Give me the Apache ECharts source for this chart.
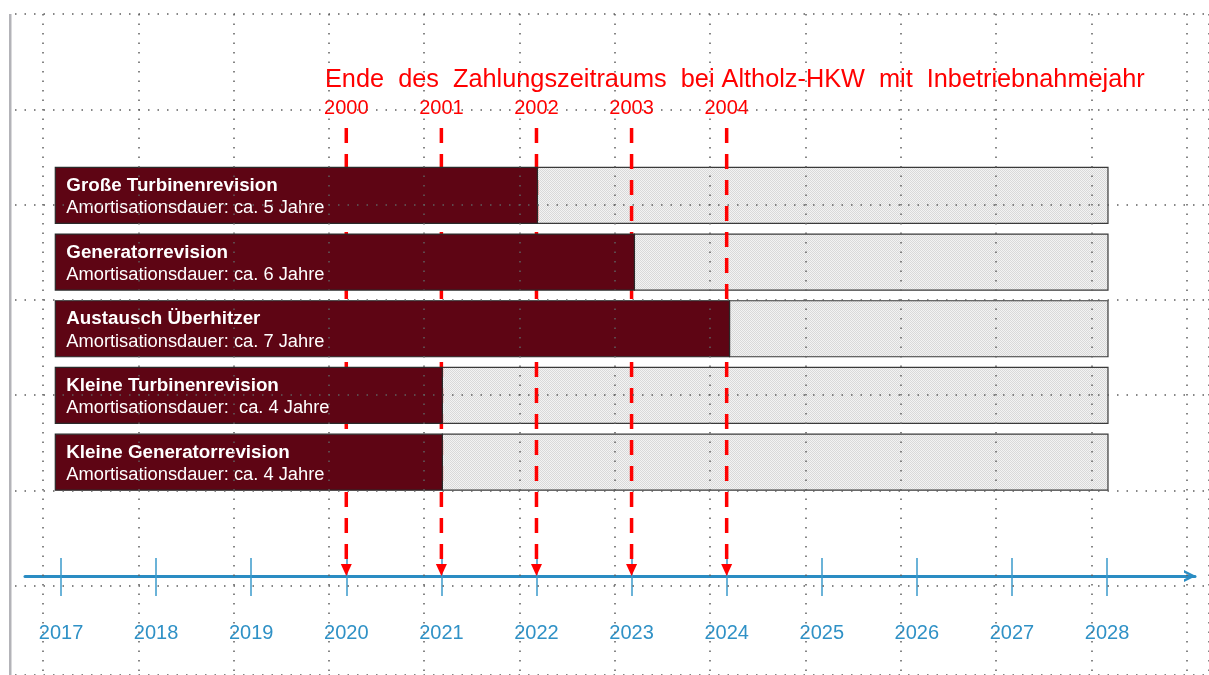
<!DOCTYPE html>
<html>
<head>
<meta charset="utf-8">
<script src="https://cdn.jsdelivr.net/npm/echarts@6/dist/echarts.min.js"></script>
<style>
html,body{margin:0;padding:0;background:#fff;}
#chart{width:1209px;height:675px;}
</style>
</head>
<body>
<div id="chart"></div>
<script>
// ---- data ----
const axisYears = [2017, 2018, 2019, 2020, 2021, 2022, 2023, 2024, 2025, 2026, 2027, 2028];
const commissioningYears = ['2000', '2001', '2002', '2003', '2004'];
const paymentEndYears = [2020, 2021, 2022, 2023, 2024];
const measures = ['Große Turbinenrevision', 'Generatorrevision', 'Austausch Überhitzer', 'Kleine Turbinenrevision', 'Kleine Generatorrevision'];
const paybackTexts = ['Amortisationsdauer: ca. 5 Jahre', 'Amortisationsdauer: ca. 6 Jahre', 'Amortisationsdauer: ca. 7 Jahre', 'Amortisationsdauer:  ca. 4 Jahre', 'Amortisationsdauer: ca. 4 Jahre'];
const paybackStart = [2016.94, 2016.94, 2016.94, 2016.94, 2016.94];
const paybackEnd = [2022.01, 2023.03, 2024.03, 2021.01, 2021.01];
const horizonEnd = [2028.01, 2028.01, 2028.01, 2028.01, 2028.01];
const titleText = 'Ende  des  Zahlungszeitraums  bei Altholz-HKW  mit  Inbetriebnahmejahr';

// ---- layout helpers ----
const FONT = "'Liberation Sans', Arial, sans-serif";
const X_MIN = 2016.6214, X_MAX = 2028.925;
const RED = '#ff0000';
const BLUE = '#2a8cc3';

// fine dotted texture for the remaining-period bars
const pat = document.createElement('canvas');
pat.width = 2; pat.height = 2;
const pctx = pat.getContext('2d');
pctx.fillStyle = '#f3f3f3'; pctx.fillRect(0, 0, 2, 2);
pctx.fillStyle = '#d9d9d9'; pctx.fillRect(0, 0, 1, 1); pctx.fillRect(1, 1, 1, 1);

const chart = echarts.init(document.getElementById('chart'), null, {renderer: 'canvas'});

function grayItem(params, api) {
  const c = api.value(0);
  const s = api.coord([api.value(1), c]);
  const e = api.coord([api.value(2), c]);
  const h = api.size([0, 1])[1] * 0.84;
  return {
    type: 'rect',
    shape: {x: s[0], y: s[1] - h / 2, width: e[0] - s[0], height: h},
    style: {fill: {image: pat, repeat: 'repeat'}, stroke: '#3a3a3a', lineWidth: 1.2}
  };
}
function maroonItem(params, api) {
  const c = api.value(0);
  const s = api.coord([api.value(1), c]);
  const e = api.coord([api.value(2), c]);
  const h = api.size([0, 1])[1] * 0.84;
  const top = s[1] - h / 2;
  const i = params.dataIndex;
  return {
    type: 'group',
    children: [
      {type: 'rect', shape: {x: s[0], y: top, width: e[0] - s[0], height: h},
        style: {fill: '#5e0514', stroke: '#2a2a2a', lineWidth: 1.2}},
      {type: 'text', style: {text: measures[i], x: s[0] + 11, y: top + 18.5, fill: '#fff',
        font: 'bold 18.8px ' + FONT, textAlign: 'left', textVerticalAlign: 'middle'}},
      {type: 'text', style: {text: paybackTexts[i], x: s[0] + 11, y: top + 41, fill: '#fff',
        font: '18.3px ' + FONT, textAlign: 'left', textVerticalAlign: 'middle'}}
    ]
  };
}
function redItem(params, api) {
  const x = api.value(0);
  const t = api.coord([x, 1]);
  const b = api.coord([x, 0]);
  const i = params.dataIndex;
  return {
    type: 'group',
    children: [
      {type: 'line', shape: {x1: t[0], y1: t[1], x2: b[0], y2: b[1] - 10},
        style: {stroke: RED, lineWidth: 3.5, lineDash: [15, 11]}},
      {type: 'polygon', shape: {points: [[b[0] - 5.5, b[1] - 12], [b[0] + 5.5, b[1] - 12], [b[0], b[1]]]},
        style: {fill: RED}},
      {type: 'text', style: {text: commissioningYears[i], x: t[0], y: t[1] - 20, fill: RED,
        font: '20px ' + FONT, textAlign: 'center', textVerticalAlign: 'middle'}}
    ]
  };
}

const dotLine = {show: true, lineStyle: {color: '#5f5f5f', width: 1.5, type: [1.5, 8]}};

const option = {
  animation: false,
  backgroundColor: '#ffffff',
  title: {
    text: titleText, left: 320, top: 63,
    textStyle: {color: RED, fontSize: 25.3, fontWeight: 'normal', fontFamily: FONT}
  },
  graphic: [
    {type: 'rect', shape: {x: 9, y: 14, width: 2.5, height: 661}, style: {fill: '#b3b3b8'}, z: 1}
  ],
  grid: [
    {left: 43, right: 0, top: 14, bottom: 0},          // vertical dotted grid
    {left: 15, right: 0, top: 14, bottom: 0},          // horizontal dotted grid
    {left: 25, right: 14, top: 128, bottom: 99},       // timeline
    {left: 25, right: 14, top: 162, bottom: 179.5}     // bars
  ],
  xAxis: [
    {gridIndex: 0, type: 'value', min: 0, max: 12.235, interval: 1, z: 10,
      axisLine: {show: false}, axisTick: {show: false}, axisLabel: {show: false},
      splitLine: dotLine},
    {gridIndex: 1, type: 'value', min: 0, max: 1, show: false},
    {gridIndex: 2, type: 'value', min: X_MIN, max: X_MAX, position: 'bottom', z: 1,
      axisLine: {show: true, symbol: ['none', 'path://M0,12 L6,0 L12,12 L9.2,12 L6,5.2 L2.8,12 Z'],
        symbolSize: [14, 12], symbolOffset: [0, -5],
        lineStyle: {color: BLUE, width: 3}},
      axisTick: {show: true, customValues: axisYears, length: 20, inside: false,
        lineStyle: {color: '#3b9bcc', width: 1.5}},
      axisLabel: {show: true, customValues: axisYears, margin: 47, color: '#2f91c6',
        fontSize: 20, fontFamily: FONT, formatter: v => String(Math.round(v))},
      splitLine: {show: false}},
    {gridIndex: 2, type: 'value', min: X_MIN, max: X_MAX, position: 'bottom', z: 1,
      axisLine: {show: false},
      axisTick: {show: true, customValues: axisYears, length: 18, inside: true,
        lineStyle: {color: '#3b9bcc', width: 1.5}},
      axisLabel: {show: false}, splitLine: {show: false}},
    {gridIndex: 3, type: 'value', min: X_MIN, max: X_MAX, show: false}
  ],
  yAxis: [
    {gridIndex: 0, type: 'value', min: 0, max: 1, show: false},
    {gridIndex: 1, type: 'value', min: 0, max: 6.936, interval: 1, inverse: true, z: 10,
      axisLine: {show: false}, axisTick: {show: false}, axisLabel: {show: false},
      splitLine: dotLine},
    {gridIndex: 2, type: 'value', min: 0, max: 1, show: false},
    {gridIndex: 3, type: 'category', data: measures, inverse: true, show: false}
  ],
  series: [
    {type: 'custom', name: 'Rest', xAxisIndex: 4, yAxisIndex: 3, z: 2,
      renderItem: grayItem, encode: {x: [1, 2], y: 0},
      data: measures.map((m, i) => [i, paybackEnd[i], horizonEnd[i]])},
    {type: 'custom', name: 'Zahlungsende', xAxisIndex: 2, yAxisIndex: 2, z: 3,
      renderItem: redItem, encode: {x: 0},
      data: paymentEndYears.map(y => [y])},
    {type: 'custom', name: 'Amortisation', xAxisIndex: 4, yAxisIndex: 3, z: 4,
      renderItem: maroonItem, encode: {x: [1, 2], y: 0},
      data: measures.map((m, i) => [i, paybackStart[i], paybackEnd[i]])}
  ]
};
chart.setOption(option);
</script>
</body>
</html>
